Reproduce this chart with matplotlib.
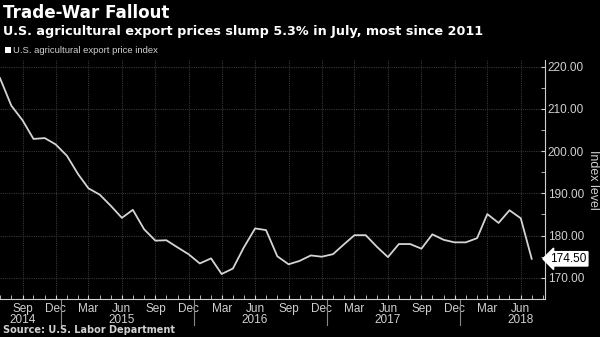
import pandas as pd
import matplotlib
matplotlib.use("Agg")
import matplotlib.pyplot as plt
import matplotlib.dates as mdates

# monthly index, Jul 2014 .. Jul 2018
months = pd.date_range("2014-07-01", "2018-07-01", freq="MS")
index_level = [
    217.3, 210.8, 207.3, 202.9, 203.1, 201.6,          # 2014 Jul-Dec
    198.9, 194.5, 191.2, 189.7, 187.1, 184.2,          # 2015 Jan-Jun
    186.1, 181.5, 178.8, 178.9, 177.2, 175.6,          # 2015 Jul-Dec
    173.4, 174.6, 170.9, 172.2, 177.2, 181.7,          # 2016 Jan-Jun
    181.3, 175.1, 173.2, 174.0, 175.3, 175.0,          # 2016 Jul-Dec
    175.6, 178.0, 180.1, 180.1, 177.4, 174.9,          # 2017 Jan-Jun
    178.0, 178.0, 176.9, 180.3, 179.0, 178.4,          # 2017 Jul-Dec
    178.4, 179.4, 185.1, 183.0, 186.0, 184.1, 174.5,   # 2018 Jan-Jul
]
last_label = "174.50"
y_ticks = [170, 180, 190, 200, 210, 220]
year_labels = ["2014", "2015", "2016", "2017", "2018"]
year_pos = ["2014-09-01", "2015-06-01", "2016-06-01", "2017-06-01", "2018-06-01"]
year_breaks = ["2014-12-01", "2015-12-01", "2016-12-01", "2017-12-01"]

plt.rcParams['font.family'] = ['Liberation Sans Narrow', 'Liberation Sans', 'DejaVu Sans']
txt = '#d0d0d0'
grid = '#363636'

fig = plt.figure(figsize=(6, 3.37), dpi=100, facecolor='black')
ax = fig.add_axes([0.0, 0.113, 0.908, 0.709])
ax.set_facecolor('black')

ax.plot(months, index_level, color='#d4d4d4', lw=1.3)

ax.set_xlim(pd.Timestamp("2014-07-01"), pd.Timestamp("2018-08-06"))
ax.set_ylim(166.5, 221.6)

ax.xaxis.set_major_locator(mdates.MonthLocator(bymonth=[3, 6, 9, 12]))
ax.xaxis.set_major_formatter(mdates.DateFormatter('%b'))
ax.xaxis.set_minor_locator(mdates.MonthLocator())
ax.tick_params(axis='x', which='both', direction='in', length=3, color=txt,
               labelcolor=txt, labelsize=8.5, pad=3)

ax.yaxis.tick_right()
ax.set_yticks(y_ticks)
ax.set_yticklabels([f"{v:.2f}" for v in y_ticks])
ax.set_yticks(range(165, 221, 5), minor=True)
ax.tick_params(axis='y', which='both', direction='in', length=3, color=txt,
               labelcolor=txt, labelsize=8.5, pad=2)

ax.grid(True, which='major', color=grid, ls=(0, (1, 1)), lw=0.8)

for s in ['top', 'left']:
    ax.spines[s].set_visible(False)
for s in ['bottom', 'right']:
    ax.spines[s].set_color(txt)
    ax.spines[s].set_linewidth(0.8)

# year labels under the month labels
for lab, d in zip(year_labels, year_pos):
    ax.annotate(lab, xy=(mdates.date2num(pd.Timestamp(d)), 0), xycoords=('data', 'axes fraction'),
                xytext=(0, -15.5), textcoords='offset points', ha='center', va='center',
                color=txt, fontsize=8.5)
for d in year_breaks:
    ax.axvline(pd.Timestamp(d) + pd.Timedelta(days=15), ymin=-0.11, ymax=0,
               color='#888888', lw=0.8, clip_on=False)

ax.set_ylabel("Index level", color=txt, fontsize=9, rotation=270, va='center')
ax.yaxis.set_label_position('right')
ax.yaxis.set_label_coords(1.1, 0.5)

# last value tag
ax.annotate(last_label, xy=(1.0, index_level[-1]), xycoords=('axes fraction', 'data'),
            xytext=(4, 0), textcoords='offset points', ha='left', va='center',
            color='black', fontsize=8.5,
            bbox=dict(boxstyle='larrow,pad=0.1', fc='white', ec='white'))

fig.text(0.005, 0.96, "Trade-War Fallout", color='white', fontsize=12.1,
         fontweight='bold', va='center', family=['DejaVu Sans'])
fig.text(0.005, 0.907, "U.S. agricultural export prices slump 5.3% in July, most since 2011",
         color='white', fontsize=9.15, fontweight='bold', va='center',
         family=['DejaVu Sans'])
fig.text(0.022, 0.851, "U.S. agricultural export price index", color=txt, fontsize=6.8,
         va='center')
fig.patches.append(plt.Rectangle((0.008, 0.843), 0.01, 0.018, transform=fig.transFigure,
                                 fc='white', ec='none'))
fig.text(0.005, 0.02, "Source: U.S. Labor Department", color=txt, fontsize=7,
         fontweight='bold', va='center', family=['DejaVu Sans'])

fig.savefig("out.png", dpi=100, facecolor='black')
